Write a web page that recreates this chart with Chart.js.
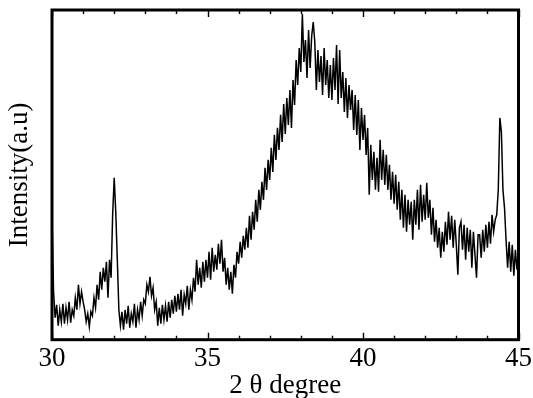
<!DOCTYPE html>
<html lang="en">
<head>
<meta charset="utf-8">
<title>XRD pattern</title>
<script src="https://cdn.jsdelivr.net/npm/chart.js@4.4.1/dist/chart.umd.min.js"></script>
<style>
    body { margin: 0; background: #fff; }
</style>
</head>
<body>
<canvas id="xrd" width="533" height="398"></canvas>

<script type="text/javascript">

    // 2-theta grid of the scan
    const startAngle = 30;
    const stepAngle = 0.05;

    // intensity, one value per step (30.00 .. 45.00)
    const intensity = [
        125, 48, 22, 35, 14, 30, 18, 36, 16, 32, 20, 38, 17, 30, 24, 42, 30, 55, 36, 48,
        38, 30, 18, 26, 13, 28, 24, 42, 32, 55, 40, 68, 50, 72, 58, 78, 42, 80, 62, 125,
        162, 128, 80, 30, 14, 28, 10, 30, 16, 34, 12, 26, 18, 36, 12, 30, 20, 38, 24, 40,
        36, 55, 48, 63, 44, 52, 30, 38, 14, 32, 16, 35, 20, 34, 18, 38, 22, 40, 26, 44,
        28, 46, 30, 50, 24, 45, 36, 54, 30, 50, 40, 62, 48, 80, 55, 72, 52, 78, 58, 80,
        62, 88, 60, 92, 68, 85, 70, 96, 76, 100, 68, 82, 55, 72, 50, 68, 46, 75, 62, 88,
        76, 98, 82, 104, 90, 112, 92, 124, 100, 128, 110, 140, 118, 150, 130, 158, 140, 172, 150, 180,
        160, 192, 168, 205, 180, 212, 190, 225, 198, 236, 206, 242, 215, 250, 212, 260, 235, 280, 255, 292,
        268, 326, 278, 300, 262, 310, 272, 304, 318, 298, 250, 290, 258, 284, 245, 292, 255, 280, 242, 275,
        240, 282, 250, 295, 236, 290, 242, 268, 228, 262, 222, 255, 230, 250, 210, 245, 205, 240, 190, 232,
        200, 225, 185, 212, 145, 195, 160, 188, 150, 182, 148, 200, 160, 190, 155, 185, 150, 175, 140, 168,
        136, 165, 130, 158, 120, 150, 112, 145, 108, 140, 115, 138, 100, 140, 115, 150, 110, 155, 118, 145,
        120, 157, 122, 140, 105, 132, 98, 120, 92, 112, 82, 108, 88, 118, 95, 128, 100, 124, 92, 120,
        95, 65, 112, 118, 90, 115, 80, 112, 88, 110, 72, 108, 85, 62, 105, 105, 82, 110, 88, 115,
        92, 118, 96, 125, 108, 120, 125, 150, 222, 208, 150, 132, 100, 72, 98, 68, 95, 64, 90, 70,
        85
    ];

    const xTickLabels = [30, 35, 40, 45];

    const points = intensity.map((v, i) => ({x: startAngle + i * stepAngle, y: v}));

    const serif = "'Liberation Serif', 'Times New Roman', serif";

    // thick box round the plot with inward ticks top and bottom
    const frame = {
        id: 'frame',
        afterDraw(chart) {
            const ctx = chart.ctx;
            const a = chart.chartArea;
            const xs = chart.scales.x;
            ctx.save();
            ctx.strokeStyle = '#000';
            ctx.lineWidth = 1.4;
            for (let v = 30; v <= 45; v++) {
                const px = Math.round(xs.getPixelForValue(v)) + 0.5;
                const len = xTickLabels.includes(v) ? 7 : 4;
                ctx.beginPath();
                ctx.moveTo(px, a.bottom);
                ctx.lineTo(px, a.bottom - len);
                ctx.moveTo(px, a.top);
                ctx.lineTo(px, a.top + len);
                ctx.stroke();
            }
            ctx.lineWidth = 3;
            ctx.strokeRect(a.left, a.top, a.right - a.left, a.bottom - a.top);
            ctx.restore();
        }
    };

    new Chart("xrd", {
        type: 'line',
        data: {
            datasets: [
                {
                    data: points,
                    borderColor: '#000',
                    borderWidth: 1.5,
                    pointRadius: 0,
                    tension: 0
                }
            ]
        },
        options: {
            responsive: false,
            animation: false,
            layout: {padding: {top: 10, left: 6, right: 14, bottom: 0}},
            plugins: {
                legend: {display: false},
                tooltip: {enabled: false}
            },
            scales: {
                x: {
                    type: 'linear',
                    min: 30,
                    max: 45,
                    grid: {display: true, drawOnChartArea: false, drawTicks: true, tickLength: 5, color: 'rgba(0,0,0,0)'},
                    border: {display: false},
                    ticks: {
                        stepSize: 5,
                        padding: 1,
                        color: '#000',
                        maxRotation: 0,
                        font: {family: serif, size: 27, lineHeight: 1}
                    },
                    title: {
                        display: true,
                        text: '2 θ degree',
                        color: '#000',
                        padding: {top: 0, bottom: 0},
                        font: {family: serif, size: 27, lineHeight: 0.9}
                    }
                },
                y: {
                    min: 0,
                    max: 330,
                    grid: {display: false},
                    border: {display: false},
                    ticks: {display: false},
                    title: {
                        display: true,
                        text: 'Intensity(a.u)',
                        color: '#000',
                        padding: 0,
                        font: {family: serif, size: 27, lineHeight: 1}
                    },
                    afterFit: scale => { scale.width = 46; }
                }
            }
        },
        plugins: [frame]
    });

</script>
</body>
</html>
